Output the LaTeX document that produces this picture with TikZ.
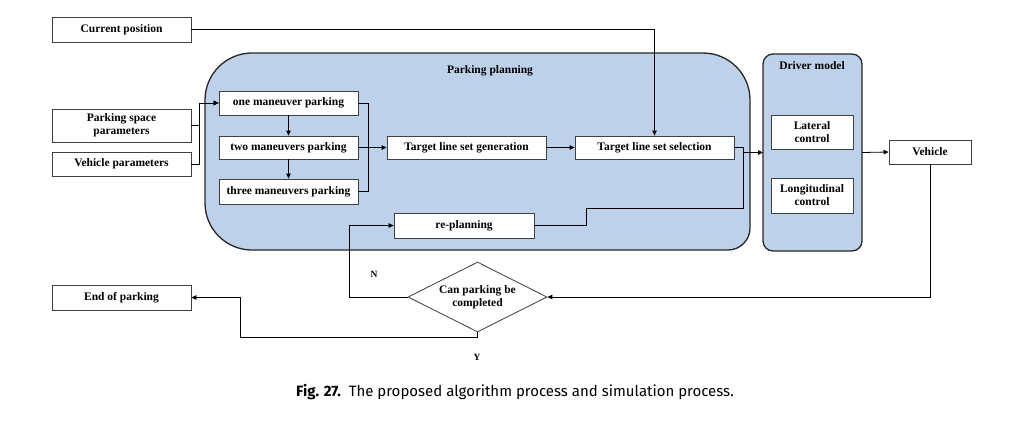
\documentclass[tikz,border=0pt]{standalone}
\usepackage{fontspec}
\setmainfont{Liberation Serif}
\newfontfamily\capfont{Fira Sans}
\usetikzlibrary{arrows.meta, shapes.geometric}
\definecolor{planblue}{RGB}{190,209,234}

\begin{document}
\begin{tikzpicture}[x = 1pt, y = -1pt, line width = 0.8pt,
    box/.style = {draw = black!75, fill = white, inner sep = 0pt, align = center, font = \fontsize{11.5}{13}\selectfont\bfseries},
    group/.style = {draw = black!85, fill = planblue, line width = 1.3pt},
    lbl/.style = {font = \fontsize{11.5}{13}\selectfont\bfseries},
    arr/.style = {-{Triangle[length = 5pt, width = 4.5pt]}}]
  \useasboundingbox (0,0) rectangle (1017,421);

  % grouping frames
  \draw[group] (205,150) [rounded corners = 47pt] |- (490,53) -| (750,150)
    [rounded corners = 22pt] |- (490,250) [rounded corners = 47pt] -| (205,150) -- cycle;
  \draw[group, rounded corners = 10pt] (763,54) rectangle (862,251);
  \node[lbl] (plan) at (490,71) {Parking planning};
  \node[lbl] (dm) at (812,66) {Driver model};
  \coordinate (dmin) at (763,152.5);
  \coordinate (dmout) at (862,152.5);

  % inputs and outputs
  \node[box, minimum width = 139pt, minimum height = 25pt] (cur) at (121.5,29.5) {Current position};
  \node[box, minimum width = 139pt, minimum height = 33pt] (space) at (121.5,125.5) {Parking space\\parameters};
  \node[box, minimum width = 139pt, minimum height = 24pt] (veh) at (121.5,164) {Vehicle parameters};
  \node[box, minimum width = 139pt, minimum height = 25pt] (end) at (121.5,297.5) {End of parking};

  % planning steps
  \node[box, minimum width = 139pt, minimum height = 24pt] (one) at (288.5,103) {one maneuver parking};
  \node[box, minimum width = 139pt, minimum height = 23pt] (two) at (288.5,147.5) {two maneuvers parking};
  \node[box, minimum width = 139pt, minimum height = 25pt] (three) at (288.5,191.5) {three maneuvers parking};
  \node[box, minimum width = 159pt, minimum height = 23pt] (gen) at (466.5,147.5) {Target line set generation};
  \node[box, minimum width = 159pt, minimum height = 23pt] (sel) at (654.5,147.5) {Target line set selection};
  \node[box, minimum width = 140pt, minimum height = 25pt] (repl) at (464,225.5) {re-planning};

  % driver model and vehicle
  \node[box, minimum width = 82pt, minimum height = 34pt] (lat) at (812,132) {Lateral\\control};
  \node[box, minimum width = 82pt, minimum height = 35pt] (lon) at (812,195.5) {Longitudinal\\control};
  \node[box, minimum width = 82pt, minimum height = 24pt] (car) at (930,152) {Vehicle};

  \node[box, shape = diamond, aspect = 2, minimum width = 139pt, minimum height = 70pt] (done) at (477.5,297) {Can parking be\\completed};
  \node[lbl, font = \fontsize{9.5}{10}\selectfont\bfseries] (no) at (374,274) {N};
  \node[lbl, font = \fontsize{9.5}{10}\selectfont\bfseries] (yes) at (477,357) {Y};

  \coordinate (split) at (743,152.5);

  \draw[arr] (cur) -| (sel);
  \draw[arr] (space.east) -- ++(8,0) |- (one.west);
  \draw[arr] (veh.east) -- ++(8,0) |- (one.west);
  \draw[arr] (one) -- (two);
  \draw[arr] (two) -- (three);
  \draw (one.east) -- ++(10,0) |- (three.east);
  \draw[arr, line width = 1.4pt] (two) -- (gen);
  \draw[arr] (gen) -- (sel);
  \draw[arr] (sel.east) -| (split) -- (dmin);
  \draw (split) |- (586,208) |- (repl.east);
  \draw[arr] (dmout) -- (car.west);
  \draw[arr] (car.south) |- (done.east);
  \draw[arr] (done.west) -- ++(-58,0) |- (repl.west);
  \draw[arr] (done.south) -- ++(0,5) -| (240,297.5) -- (end.east);

  \node[font = \capfont\fontsize{15}{17}\selectfont] (cap) at (515,392) {\textbf{Fig. 27.}\ \ The proposed algorithm process and simulation process.};
\end{tikzpicture}
\end{document}
